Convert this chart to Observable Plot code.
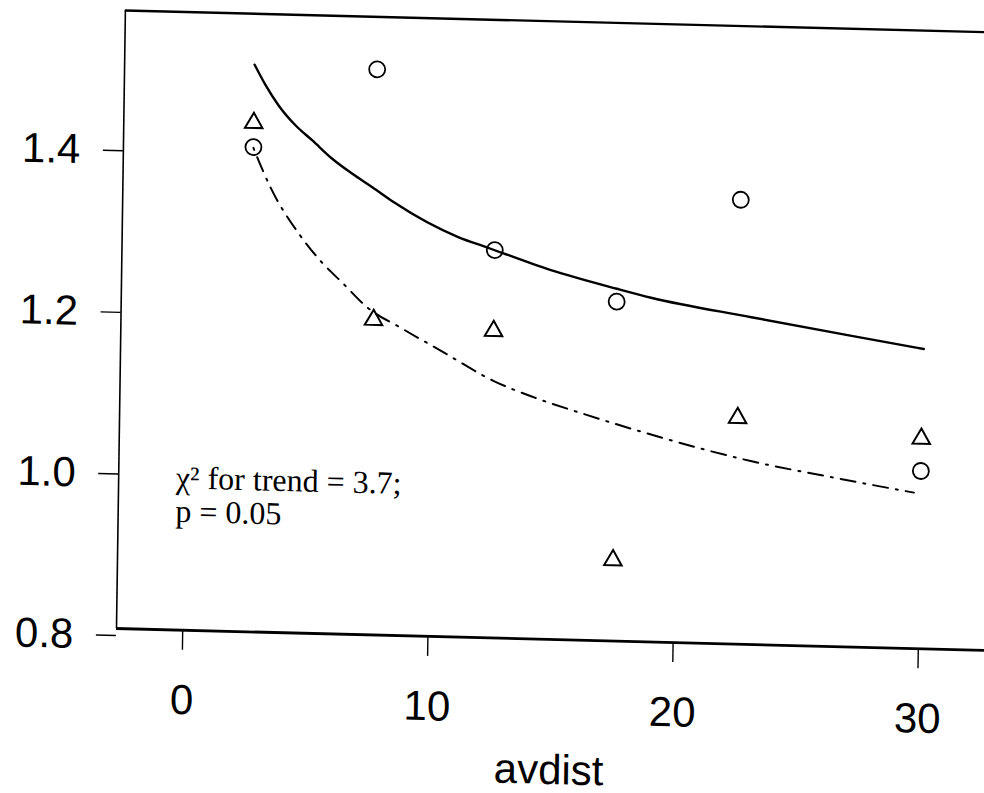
<!DOCTYPE html>
<html><head><meta charset="utf-8">
<script src="https://cdn.jsdelivr.net/npm/d3@7"></script>
<script src="https://cdn.jsdelivr.net/npm/@observablehq/plot@0.6"></script>
<style>
html,body{margin:0;padding:0;background:#fff;overflow:hidden;}
#chart svg{display:block;transform-origin:116px 628px;transform:matrix(1,0.0252,-0.0144,1,0,0);}
</style></head><body><div id="chart"></div>
<script>
// category positions (mean distance) and observed values
const avdist = [2.6, 7.6, 12.5, 17.5, 22.5, 30.0];
const circleValues = [1.40, 1.50, 1.28, 1.22, 1.35, 1.02];
const triangleValues = [1.43, 1.19, 1.18, 0.90, 1.08, 1.06];
// fitted curve (solid)
const solidX = [2.6, 3.06, 3.61, 4.31, 5.0, 5.82, 6.65, 7.47, 8.36, 11.0, 12.2, 14.8, 17.5, 18.9, 23.0, 27.1, 30.05];
const solidY = [1.502, 1.477, 1.452, 1.428, 1.410, 1.388, 1.370, 1.354, 1.336, 1.295, 1.283, 1.257, 1.236, 1.226, 1.205, 1.185, 1.171];
// fitted curve (dash-dot)
const dashX = [2.6, 3.33, 4.51, 5.41, 6.37, 7.34, 8.71, 10.35, 12.54, 14.19, 16.23, 18.69, 23.06, 26.46, 29.73];
const dashY = [1.399, 1.350, 1.294, 1.261, 1.233, 1.205, 1.181, 1.154, 1.118, 1.099, 1.080, 1.059, 1.027, 1.009, 0.993];
// axes
const xTicks = [0, 10, 20, 30];
const yTicks = [0.8, 1.0, 1.2, 1.4];
const xDomain = [-2.7, 32.7];
const yDomain = [0.8, 1.565];
const xLabel = "avdist";
// annotation
const noteLines = ["χ² for trend = 3.7;", "p = 0.05"];
const noteX = [-0.37];
const noteY = [1.005];

const circles = avdist.map((x, i) => ({x, y: circleValues[i]}));
const triangles = avdist.map((x, i) => ({x, y: triangleValues[i]}));
const solid = solidX.map((x, i) => ({x, y: solidY[i]}));
const dash = dashX.map((x, i) => ({x, y: dashY[i]}));
const note = [{x: noteX[0], y: noteY[0], text: noteLines.join("\n")}];

const chart = Plot.plot({
  width: 984, height: 793,
  marginLeft: 116, marginRight: 0, marginTop: 10, marginBottom: 165,
  x: {domain: xDomain},
  y: {domain: yDomain},
  style: {background: "#fff", color: "#000", fontFamily: "'Liberation Sans', Arial, sans-serif", fontSize: "42px"},
  marks: [
    Plot.ruleX([xDomain[0]], {stroke: "#000", strokeWidth: 1.6}),
    Plot.ruleY([yDomain[1]], {stroke: "#000", strokeWidth: 2.4}),
    Plot.ruleY([yDomain[0]], {stroke: "#000", strokeWidth: 2.8}),
    Plot.axisX({ticks: xTicks, tickSize: 20, tickPadding: 34, label: null, tickFormat: d => String(d), strokeWidth: 1.4}),
    Plot.axisY({ticks: yTicks, tickSize: 20, tickPadding: 23, dy: 7, label: null, tickFormat: d3.format(".1f"), strokeWidth: 1.4}),
    Plot.text([xLabel], {frameAnchor: "bottom", dy: 131, lineAnchor: "middle", fontSize: 42}),
    Plot.line(solid, {x: "x", y: "y", curve: "monotone-x", stroke: "#000", strokeWidth: 2.4}),
    Plot.line(dash, {x: "x", y: "y", curve: "monotone-x", stroke: "#000", strokeWidth: 2, strokeDasharray: "2,8,15,8"}),
    Plot.dot(circles, {x: "x", y: "y", r: 8, stroke: "#000", strokeWidth: 1.8, fill: "none"}),
    Plot.dot(triangles, {x: "x", y: "y", symbol: "triangle", r: 6.5, stroke: "#000", strokeWidth: 2, fill: "none"}),
    Plot.text(note, {x: "x", y: "y", text: "text", textAnchor: "start", lineAnchor: "top", lineHeight: 1.05,
      fontFamily: "'Liberation Serif', 'Times New Roman', serif", fontSize: 32, fill: "#000"})
  ]
});
document.getElementById("chart").appendChild(chart);
</script>
</body></html>
